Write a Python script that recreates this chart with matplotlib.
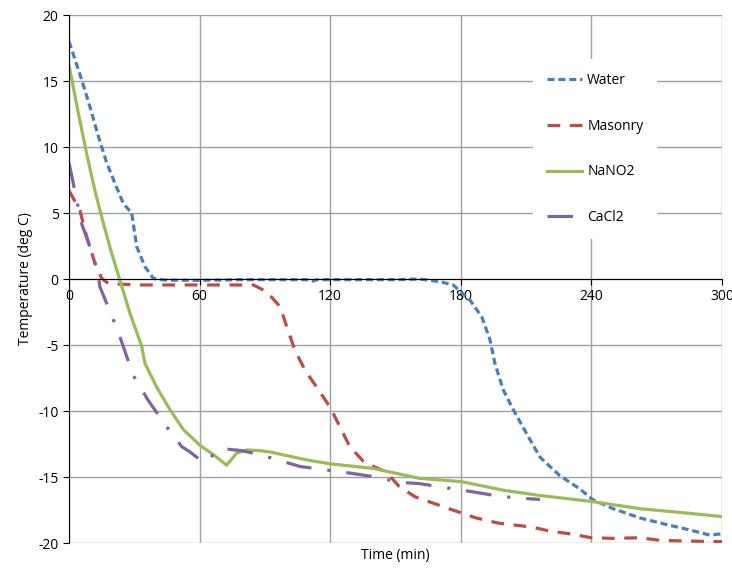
import matplotlib
matplotlib.use("Agg")
import matplotlib.pyplot as plt

plt.rcParams['font.family'] = ['Open Sans', 'DejaVu Sans']
plt.rcParams['axes.unicode_minus'] = False

# Water
water_t = [0, 5.8, 9.6, 13.5, 17.3, 21.1, 25, 28.8, 29.5, 31.1, 34.9, 38.7, 44, 60, 80, 100, 110,
           112, 114, 130, 150, 161, 170.4, 176.5, 184.2, 189.6, 193.4, 195.7, 199.5, 204.1,
           210.2, 216.4, 225.5, 234.7, 240.5, 250, 262.3, 274.5, 285, 294.4, 300]
water_T = [18, 15.1, 13.05, 10.8, 8.8, 7.25, 5.7, 5.0, 4.2, 2.45, 0.93, 0.05, -0.08, -0.1, -0.05,
           -0.05, -0.05, -0.15, -0.05, -0.05, -0.05, 0.0, -0.2, -0.45, -1.6, -2.85, -4.6, -6.4,
           -8.4, -9.9, -11.7, -13.5, -14.9, -15.9, -16.7, -17.4, -18.1, -18.6, -19.0, -19.4, -19.3]

# Masonry
masonry_t = [0, 5, 8.1, 11.9, 15, 18, 21.9, 32.6, 60, 84.7, 90.8, 97, 100, 103.8, 108.4, 113.8,
             119.9, 124.5, 129, 135.2, 139.8, 145.6, 151.6, 159, 174.6, 187, 197.5, 213, 221,
             230, 240, 250, 262.3, 271.5, 285, 300]
masonry_T = [6.7, 5.2, 3.2, 1.2, 0.05, -0.33, -0.38, -0.45, -0.45, -0.45, -0.96, -2.1, -3.6, -5.4,
             -6.9, -8.2, -9.7, -11.2, -12.7, -13.8, -14.2, -14.6, -15.7, -16.5, -17.4, -18.1,
             -18.5, -18.8, -19.1, -19.3, -19.6, -19.65, -19.6, -19.8, -19.85, -19.9]

# NaNO2
nano2_t = [0, 4.3, 8.1, 11.9, 15.8, 19.6, 23.4, 28, 33.4, 34.9, 40.3, 46.4, 52.5, 60.2, 66.3,
           72.4, 77, 81.6, 87.7, 92.3, 109, 120, 139.8, 161, 180.4, 199.5, 216.4, 240, 262.3,
           285, 300]
nano2_T = [16.2, 12.55, 9.5, 6.7, 4.2, 1.95, -0.1, -2.6, -5.1, -6.4, -8.2, -9.9, -11.4, -12.6,
           -13.3, -14.1, -13.2, -12.95, -13.0, -13.1, -13.7, -14.0, -14.35, -15.1, -15.35, -16.0,
           -16.4, -16.85, -17.4, -17.75, -18.0]

# CaCl2
cacl2_t = [0, 5.8, 11.2, 13.5, 14.2, 22.6, 29.5, 36.4, 44.9, 51.8, 55.6, 60.2, 64, 67, 73.2,
           79.3, 87.7, 106, 129, 141, 151.6, 161, 181, 197.5, 207, 216.4]
cacl2_T = [8.8, 4.2, 1.7, 0.17, -0.6, -4.0, -7.3, -9.2, -11.2, -12.7, -13.1, -13.7, -13.8, -13.1,
           -12.9, -13.0, -13.3, -14.2, -14.7, -15.0, -15.4, -15.5, -16.0, -16.45, -16.6, -16.7]

fig = plt.figure(figsize=(7.32, 5.71), dpi=100)
ax = fig.add_axes([0.0943, 0.049, 0.892, 0.9247])

ax.plot(water_t, water_T, color='#4a7ebb', lw=2.3, linestyle=(0, (2.2, 1.2)), label='Water')
ax.plot(masonry_t, masonry_T, color='#be4b48', lw=2.3, linestyle=(0, (4, 3)), label='Masonry')
ax.plot(nano2_t, nano2_T, color='#9bbb59', lw=2.3, label='NaNO2')
ax.plot(cacl2_t, cacl2_T, color='#7f63a2', lw=2.3, linestyle=(0, (8, 5, 1, 5)), label='CaCl2')

ax.set_xlim(0, 300)
ax.set_ylim(-20, 20)
ax.set_xticks(range(0, 301, 60))
ax.set_yticks(range(-20, 21, 5))
ax.grid(True, color='#a0a0a0', lw=1)
ax.set_axisbelow(True)

ax.spines['bottom'].set_position(('data', 0))
ax.spines['top'].set_visible(False)
ax.spines['right'].set_visible(False)
ax.spines['bottom'].set_color('black')
ax.spines['left'].set_color('black')
ax.tick_params(labelsize=10, length=4, color='black', direction='out')

ax.set_xlabel('Time (min)', fontsize=10)
ax.xaxis.set_label_coords(0.5, -0.01)
ax.set_ylabel('Temperature (deg C)', fontsize=10)

leg = ax.legend(loc='upper left', bbox_to_anchor=(0.7, 0.929), frameon=True, framealpha=1,
                edgecolor='none', fontsize=10, labelspacing=2.2, handlelength=2.5,
                handletextpad=0.4, borderpad=1.0)
leg.get_frame().set_boxstyle('square', pad=0)

fig.savefig('out.png', dpi=100)
